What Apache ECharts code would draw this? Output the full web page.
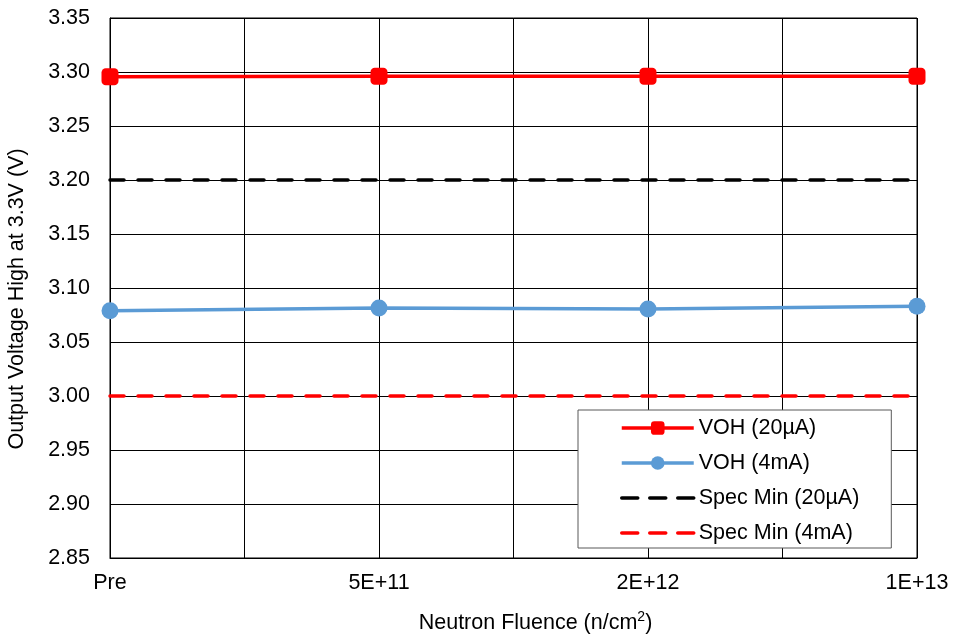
<!DOCTYPE html>
<html>
<head>
<meta charset="utf-8">
<script src="https://cdn.jsdelivr.net/npm/echarts@6/dist/echarts.min.js"></script>
<style>
  html, body { margin: 0; padding: 0; background: #fff; }
  #chart { width: 953px; height: 636px; }
</style>
</head>
<body>
<div id="chart"></div>
<script>
// Fluence steps along the x axis
const fluenceLabels = ['Pre', '5E+11', '2E+12', '1E+13'];

// Measured output-high voltage (V) at each fluence step
const voh20uA = [3.2955, 3.296, 3.296, 3.296];
const voh4mA = [3.079, 3.0815, 3.0806, 3.0832];

// Datasheet minimums (V)
const specMin20uA = [3.20, 3.20, 3.20, 3.20];
const specMin4mA = [3.00, 3.00, 3.00, 3.00];

// Y axis range and step
const yMin = 2.85, yMax = 3.35, yStep = 0.05;

const FONT = "'Liberation Sans', Arial, sans-serif";
const FS = 21.5;

function pairs(values) {
  return values.map((v, i) => [i, v]);
}

const DASH = [14, 14];
const LEGEND_DASH = [16, 12];

const chart = echarts.init(document.getElementById('chart'), null, { renderer: 'canvas' });

chart.setOption({
  animation: false,
  backgroundColor: '#ffffff',
  textStyle: { fontFamily: FONT, color: '#000' },
  grid: {
    left: 110, right: 36, top: 18, bottom: 78,
    containLabel: false,
    outerBoundsMode: 'none',
    show: true, borderColor: '#000', borderWidth: 1
  },
  xAxis: {
    type: 'value',
    min: 0,
    max: fluenceLabels.length - 1,
    interval: 0.5,
    name: '{t|Neutron Fluence (n/cm}{s|2}{t|)}',
    nameLocation: 'middle',
    nameGap: 52,
    nameTextStyle: {
      fontSize: FS, color: '#000', fontFamily: FONT,
      padding: [0, 0, 0, 44],
      rich: {
        t: { fontSize: FS, fontFamily: FONT, color: '#000', verticalAlign: 'bottom', lineHeight: 24 },
        s: { fontSize: 14, fontFamily: FONT, color: '#000', verticalAlign: 'top', lineHeight: 24, padding: [0, 0, 8, 0] }
      }
    },
    axisLine: { show: true, lineStyle: { color: '#000', width: 1 } },
    axisTick: { show: false },
    splitLine: { show: true, lineStyle: { color: '#000', width: 1 } },
    axisLabel: {
      fontSize: FS, color: '#000', fontFamily: FONT, margin: 14,
      showMinLabel: true, showMaxLabel: true,
      formatter: v => (Number.isInteger(v) ? fluenceLabels[v] : '')
    }
  },
  yAxis: {
    type: 'value',
    min: yMin,
    max: yMax,
    interval: yStep,
    name: 'Output Voltage High at 3.3V (V)',
    nameLocation: 'middle',
    nameGap: 82,
    nameTextStyle: { fontSize: FS, color: '#000', fontFamily: FONT, padding: [0, 22, 0, 0] },
    axisLine: { show: true, lineStyle: { color: '#000', width: 1 } },
    axisTick: { show: false },
    splitLine: { show: true, lineStyle: { color: '#000', width: 1 } },
    axisLabel: {
      fontSize: FS, color: '#000', fontFamily: FONT, margin: 20,
      formatter: v => v.toFixed(2)
    }
  },
  legend: {
    orient: 'vertical',
    left: 578,
    top: 410,
    padding: [7, 32, 4, 42],
    itemGap: 13,
    itemWidth: 72,
    itemHeight: 17,
    backgroundColor: '#fff',
    borderColor: '#595959',
    borderWidth: 1,
    borderRadius: 0,
    textStyle: { fontSize: FS, color: '#000', fontFamily: FONT },
    data: [
      { name: 'VOH (20µA)', lineStyle: { width: 3.5 } },
      { name: 'VOH (4mA)', lineStyle: { width: 3.5 } },
      { name: 'Spec Min (20µA)', itemStyle: { opacity: 0 }, lineStyle: { width: 3.5, type: LEGEND_DASH } },
      { name: 'Spec Min (4mA)', itemStyle: { opacity: 0 }, lineStyle: { width: 3.5, type: LEGEND_DASH } }
    ]
  },
  series: [
    {
      name: 'VOH (20µA)',
      type: 'line',
      data: pairs(voh20uA),
      symbol: 'roundRect',
      symbolSize: 17,
      z: 5,
      lineStyle: { color: '#ff0000', width: 3.5 },
      itemStyle: { color: '#ff0000' }
    },
    {
      name: 'VOH (4mA)',
      type: 'line',
      data: pairs(voh4mA),
      symbol: 'circle',
      symbolSize: 17,
      z: 4,
      lineStyle: { color: '#5b9bd5', width: 3.5 },
      itemStyle: { color: '#5b9bd5' }
    },
    {
      name: 'Spec Min (20µA)',
      type: 'line',
      data: pairs(specMin20uA),
      symbol: 'none',
      z: 3,
      lineStyle: { color: '#000', width: 3.5, type: DASH, cap: 'round' },
      itemStyle: { color: '#000' }
    },
    {
      name: 'Spec Min (4mA)',
      type: 'line',
      data: pairs(specMin4mA),
      symbol: 'none',
      z: 3,
      lineStyle: { color: '#ff0000', width: 3.5, type: DASH, cap: 'round' },
      itemStyle: { color: '#ff0000' }
    }
  ]
});
</script>
</body>
</html>
